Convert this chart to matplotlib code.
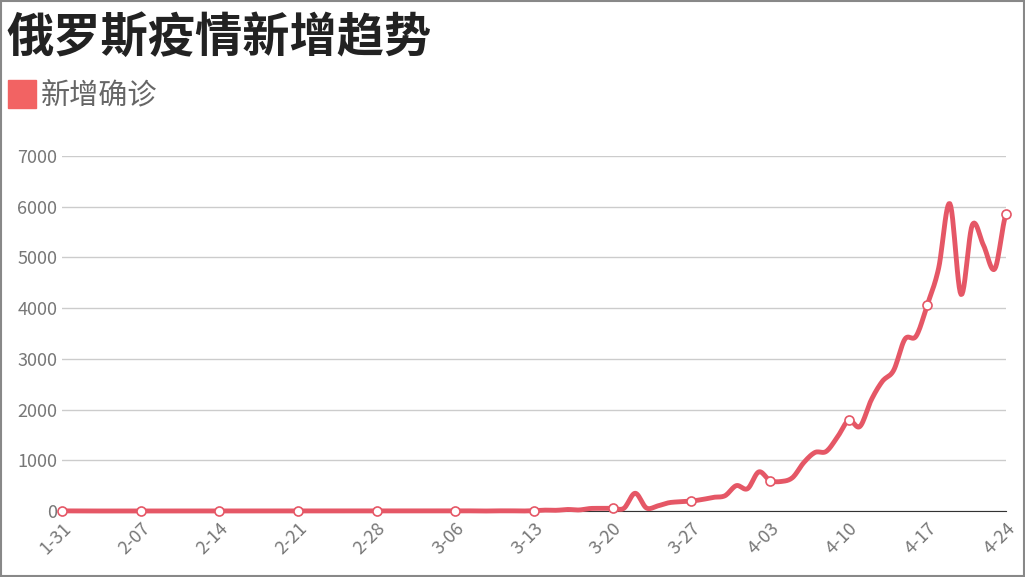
import matplotlib
matplotlib.use("Agg")
import matplotlib.pyplot as plt
import numpy as np
from matplotlib.patches import Rectangle

plt.rcParams['font.family'] = ['Noto Sans CJK SC', 'DejaVu Sans']

title = "俄罗斯疫情新增趋势"
series_name = "新增确诊"
tick_labels = ["1-31","2-07","2-14","2-21","2-28","3-06","3-13","3-20","3-27","4-03","4-10","4-17","4-24"]
# daily new cases, 1-31 .. 4-24 (85 days)
values = [2,0,0,0,0,0,0,0,0,0,0,0,0,0,0,0,0,0,0,0,0,0,0,0,0,0,0,0,0,0,
          0,1,0,0,1,1,3,0,0,3,3,0,6,17,14,30,20,49,52,53,
          54,350,60,100,163,182,196,228,270,302,500,440,771,601,582,658,954,1154,1175,1459,
          1786,1667,2186,2558,2774,3388,3448,4070,4785,6060,4268,5642,5236,4774,5849]

color = "#e55766"
fig = plt.figure(figsize=(10.25, 5.77), dpi=100)
fig.patches.append(Rectangle((0.001, 0.001), 0.998, 0.997, transform=fig.transFigure,
                             fill=False, edgecolor="#888888", lw=1.5))
ax = fig.add_axes([0.0605, 0.1144, 0.921, 0.6153])

x = np.arange(len(values), dtype=float)
y = np.array(values, dtype=float)
# Catmull-Rom smoothing for rendering
xs, ys = [], []
n = len(x)
for i in range(n - 1):
    p0 = y[max(i - 1, 0)]; p1 = y[i]; p2 = y[i + 1]; p3 = y[min(i + 2, n - 1)]
    t = np.linspace(0, 1, 12, endpoint=False)
    yy = 0.5 * ((2 * p1) + (-p0 + p2) * t + (2 * p0 - 5 * p1 + 4 * p2 - p3) * t**2 + (-p0 + 3 * p1 - 3 * p2 + p3) * t**3)
    xs.extend(x[i] + t); ys.extend(yy)
xs.append(x[-1]); ys.append(y[-1])
ax.plot(xs, ys, color=color, lw=3.5, solid_capstyle='round', zorder=3, clip_on=False)
idx = np.arange(0, n, 7)
ax.plot(x[idx], y[idx], 'o', ms=6.5, mfc='white', mec=color, mew=1.2, zorder=4, clip_on=False)

ax.set_xlim(0, n - 1)
ax.set_ylim(0, 7000)
ax.set_yticks(range(0, 7001, 1000))
ax.set_xticks(idx)
ax.set_xticklabels(tick_labels, rotation=45, ha='right', rotation_mode='anchor')
ax.tick_params(axis='both', colors='#777777', labelsize=13, length=0)
ax.tick_params(axis='x', pad=6)
ax.grid(axis='y', color='#cccccc', lw=1)
for s in ['left', 'right', 'top']:
    ax.spines[s].set_visible(False)
ax.spines['bottom'].set_color('#333333')
ax.set_axisbelow(True)

fig.text(0.006, 0.935, title, fontsize=34, fontweight='bold', color='#222222', va='center')
fig.patches.append(Rectangle((8/1025, 1-108/577), 28/1025, 28/577, transform=fig.transFigure,
                             color="#f26363"))
fig.text(41/1025, 1-95/577, series_name, fontsize=21, color='#666666', va='center')

fig.savefig("out.png", dpi=100)
